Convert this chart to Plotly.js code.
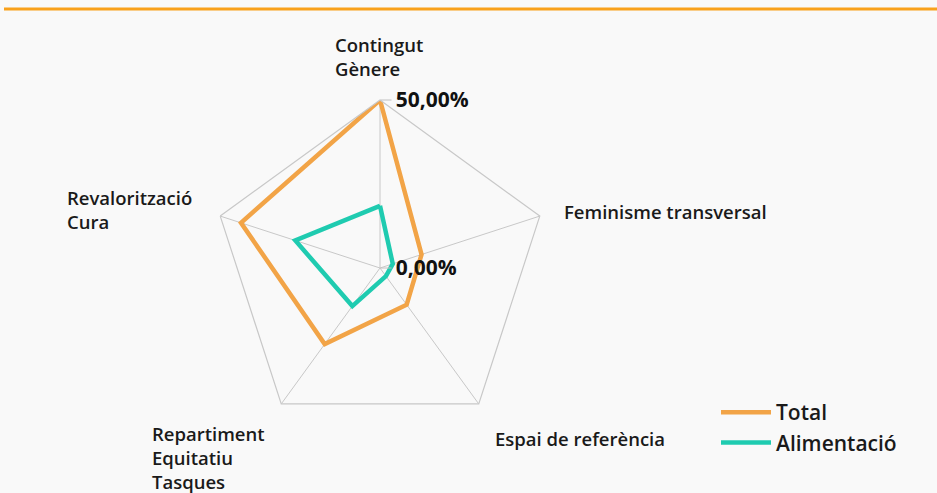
<!DOCTYPE html>
<html>
<head>
<meta charset="utf-8">
<script src="https://cdn.plot.ly/plotly-3.0.1.min.js"></script>
<style>
html,body{margin:0;padding:0;background:#f9f9f9;}
#chart{width:937px;height:493px;}
</style>
</head>
<body>
<div id="chart"></div>
<script>
// Categories (clockwise from top)
const categories = ["Contingut<br>Gènere", "Feminisme transversal", "Espai de referència", "Repartiment<br>Equitatiu<br>Tasques", "Revalorització<br>Cura"];
const totalValues = [50, 13, 13.5, 28, 43.5];
const alimentacioValues = [18.5, 4, 3, 14, 26.5];
const seriesNames = ["Total", "Alimentació"];
const radialTickVals = [0, 50];
const radialTickText = ["0,00%", "50,00%"];

function closed(a){ return a.concat([a[0]]); }

const traces = [
  {type:'scatterpolar', mode:'lines', name:seriesNames[0], r:closed(totalValues), theta:closed(categories),
   line:{color:'#f2a447', width:4.5}},
  {type:'scatterpolar', mode:'lines', name:seriesNames[1], r:closed(alimentacioValues), theta:closed(categories),
   line:{color:'#1fcbb0', width:4.5}}
];

const labelFont = {family:'Open Sans, sans-serif', size:18.5, color:'#1a1a1a', weight:600};
const labelPos = [
  {x:333/937, y:1-30/493, yanchor:'top'},
  {x:562/937, y:1-211/493, yanchor:'middle'},
  {x:493/937, y:1-438/493, yanchor:'middle'},
  {x:150/937, y:1-457/493, yanchor:'middle'},
  {x:65/937, y:1-209/493, yanchor:'middle'}
];
const annotations = categories.map((c,i)=>({
  text:c, xref:'paper', yref:'paper', x:labelPos[i].x, y:labelPos[i].y,
  xanchor:'left', yanchor:labelPos[i].yanchor, align:'left', showarrow:false, font:labelFont
}));

const layout = {
  width:937, height:493,
  margin:{l:0,r:0,t:0,b:0},
  paper_bgcolor:'#f9f9f9', plot_bgcolor:'#f9f9f9',
  showlegend:true,
  legend:{x:716/937, y:1-392/493, xanchor:'left', yanchor:'top', bgcolor:'rgba(0,0,0,0)',
          font:{family:'Open Sans, sans-serif', size:21, color:'#1a1a1a', weight:600}, tracegroupgap:0, itemwidth:50},
  polar:{
    domain:{x:[(380-168)/937,(380+168)/937], y:[(225-168)/493,(225+168)/493]},
    bgcolor:'rgba(0,0,0,0)',
    gridshape:'linear',
    radialaxis:{range:[0,50], angle:90, tickvals:radialTickVals, ticktext:radialTickText,
      showline:false, showgrid:true, gridcolor:'#c8c8c8', ticks:'outside', ticklen:11, tickcolor:'#c0c0c0',
      side:'clockwise', tickangle:90,
      tickfont:{family:'Open Sans, sans-serif', size:21, color:'#111111', weight:700}},
    angularaxis:{direction:'clockwise', rotation:90, showline:true, linecolor:'#c8c8c8', linewidth:1.2,
      gridcolor:'#c8c8c8', showticklabels:false, ticks:''}
  },
  shapes:[{type:'line', xref:'paper', yref:'paper', x0:4/937, x1:1, y0:1-9/493, y1:1-9/493,
           line:{color:'#f9a11b', width:3}}],
  annotations:annotations
};

Plotly.newPlot('chart', traces, layout, {displayModeBar:false, staticPlot:true});
</script>
</body>
</html>
